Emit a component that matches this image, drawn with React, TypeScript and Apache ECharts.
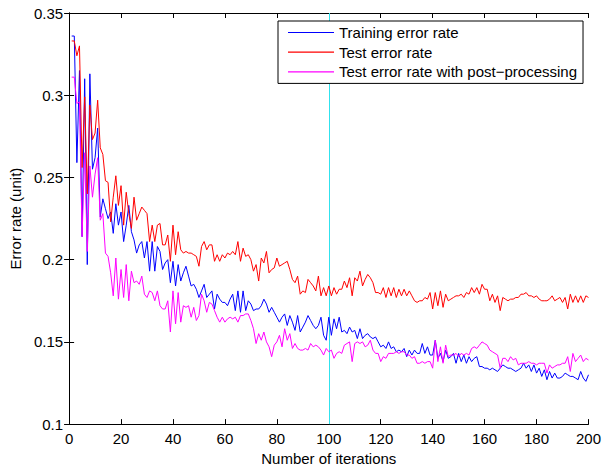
import React, { useEffect, useRef } from "react";
import * as echarts from "echarts";

const seriesNames = [
  "Training error rate",
  "Test error rate",
  "Test error rate with post\u2212processing",
];

const xTicks = [0, 20, 40, 60, 80, 100, 120, 140, 160, 180, 200];
const yTicks = [0.1, 0.15, 0.2, 0.25, 0.3, 0.35];
const markerIteration = 100;

const trainingError = [
  0.336, 0.336, 0.259, 0.315, 0.214, 0.310, 0.197, 0.313, 0.255, 0.262,
  0.280, 0.226, 0.237, 0.231, 0.225, 0.229, 0.216, 0.234, 0.221, 0.229,
  0.211, 0.221, 0.233, 0.217, 0.212, 0.204, 0.209, 0.211, 0.201, 0.211,
  0.193, 0.211, 0.193, 0.208, 0.205, 0.194, 0.198, 0.200, 0.186, 0.199,
  0.184, 0.197, 0.187, 0.192, 0.196, 0.190, 0.184, 0.185, 0.182, 0.177,
  0.181, 0.185, 0.177, 0.179, 0.181, 0.170, 0.179, 0.176, 0.174, 0.174,
  0.172, 0.176, 0.179, 0.169, 0.181, 0.168, 0.181, 0.169, 0.175, 0.173,
  0.169, 0.170, 0.170, 0.172, 0.176, 0.173, 0.168, 0.171, 0.168, 0.165,
  0.162, 0.165, 0.167, 0.160, 0.166, 0.162, 0.157, 0.166, 0.156, 0.159,
  0.162, 0.166, 0.163, 0.160, 0.158, 0.160, 0.165, 0.154, 0.151, 0.165,
  0.154, 0.164, 0.158, 0.165, 0.156, 0.157, 0.155, 0.159, 0.156, 0.157,
  0.152, 0.158, 0.152, 0.154, 0.155, 0.153, 0.152, 0.153, 0.150, 0.147,
  0.148, 0.146, 0.150, 0.146, 0.147, 0.144, 0.145, 0.144, 0.146, 0.141,
  0.145, 0.142, 0.145, 0.143, 0.143, 0.149, 0.143, 0.147, 0.142, 0.142,
  0.151, 0.140, 0.143, 0.138, 0.145, 0.140, 0.141, 0.143, 0.137, 0.143,
  0.138, 0.142, 0.137, 0.141, 0.138, 0.140, 0.141, 0.135, 0.135, 0.134,
  0.134, 0.133, 0.134, 0.133, 0.132, 0.134, 0.136, 0.135, 0.134, 0.134,
  0.133, 0.132, 0.133, 0.134, 0.137, 0.134, 0.136, 0.132, 0.136, 0.131,
  0.134, 0.129, 0.133, 0.127, 0.132, 0.128, 0.131, 0.128, 0.128, 0.129,
  0.131, 0.130, 0.129, 0.129, 0.128, 0.127, 0.132, 0.128, 0.126, 0.130,
];

const testError = [
  0.333, 0.333, 0.324, 0.330, 0.256, 0.299, 0.240, 0.294, 0.273, 0.277,
  0.297, 0.268, 0.264, 0.248, 0.247, 0.223, 0.238, 0.251, 0.233, 0.245,
  0.221, 0.241, 0.228, 0.219, 0.238, 0.224, 0.228, 0.232, 0.230, 0.228,
  0.211, 0.221, 0.211, 0.221, 0.222, 0.209, 0.209, 0.215, 0.199, 0.221,
  0.203, 0.217, 0.206, 0.204, 0.205, 0.204, 0.204, 0.203, 0.202, 0.196,
  0.208, 0.211, 0.206, 0.209, 0.209, 0.199, 0.203, 0.199, 0.203, 0.201,
  0.204, 0.203, 0.205, 0.203, 0.211, 0.199, 0.207, 0.202, 0.203, 0.200,
  0.193, 0.197, 0.187, 0.201, 0.198, 0.205, 0.192, 0.194, 0.195, 0.201,
  0.196, 0.197, 0.198, 0.199, 0.194, 0.188, 0.186, 0.190, 0.179, 0.181,
  0.180, 0.188, 0.186, 0.184, 0.181, 0.190, 0.178, 0.183, 0.178, 0.184,
  0.178, 0.183, 0.179, 0.182, 0.182, 0.187, 0.183, 0.189, 0.178, 0.189,
  0.187, 0.193, 0.184, 0.188, 0.191, 0.189, 0.186, 0.180, 0.180, 0.179,
  0.183, 0.177, 0.183, 0.178, 0.183, 0.177, 0.182, 0.178, 0.182, 0.178,
  0.181, 0.178, 0.175, 0.174, 0.175, 0.175, 0.177, 0.176, 0.180, 0.170,
  0.180, 0.172, 0.181, 0.171, 0.179, 0.175, 0.176, 0.177, 0.178, 0.178,
  0.179, 0.177, 0.180, 0.179, 0.183, 0.180, 0.183, 0.179, 0.185, 0.182,
  0.182, 0.175, 0.179, 0.174, 0.178, 0.169, 0.177, 0.176, 0.175, 0.176,
  0.176, 0.177, 0.177, 0.179, 0.179, 0.180, 0.178, 0.178, 0.177, 0.178,
  0.176, 0.175, 0.175, 0.175, 0.176, 0.178, 0.175, 0.176, 0.177, 0.174,
  0.177, 0.170, 0.179, 0.174, 0.178, 0.174, 0.178, 0.174, 0.178, 0.177,
];

const testErrorPost = [
  0.311, 0.311, 0.295, 0.296, 0.214, 0.265, 0.205, 0.257, 0.238, 0.252,
  0.262, 0.224, 0.228, 0.204, 0.202, 0.192, 0.178, 0.201, 0.176, 0.194,
  0.177, 0.197, 0.175, 0.193, 0.186, 0.187, 0.185, 0.190, 0.179, 0.177,
  0.181, 0.180, 0.175, 0.181, 0.172, 0.170, 0.170, 0.175, 0.156, 0.181,
  0.161, 0.180, 0.162, 0.172, 0.171, 0.172, 0.165, 0.171, 0.163, 0.166,
  0.179, 0.175, 0.168, 0.174, 0.173, 0.169, 0.165, 0.162, 0.165, 0.162,
  0.164, 0.165, 0.164, 0.165, 0.162, 0.166, 0.166, 0.167, 0.167, 0.163,
  0.158, 0.149, 0.155, 0.151, 0.156, 0.150, 0.147, 0.141, 0.148, 0.150,
  0.154, 0.147, 0.158, 0.151, 0.155, 0.146, 0.149, 0.146, 0.145, 0.145,
  0.146, 0.145, 0.149, 0.147, 0.148, 0.147, 0.145, 0.142, 0.146, 0.144,
  0.145, 0.140, 0.143, 0.144, 0.143, 0.148, 0.149, 0.150, 0.138, 0.149,
  0.150, 0.149, 0.150, 0.147, 0.148, 0.151, 0.145, 0.143, 0.143, 0.138,
  0.141, 0.140, 0.143, 0.143, 0.143, 0.144, 0.143, 0.144, 0.144, 0.142,
  0.142, 0.140, 0.141, 0.137, 0.137, 0.138, 0.137, 0.138, 0.138, 0.134,
  0.151, 0.138, 0.147, 0.137, 0.148, 0.141, 0.142, 0.142, 0.143, 0.141,
  0.143, 0.142, 0.143, 0.142, 0.146, 0.147, 0.146, 0.148, 0.150, 0.149,
  0.148, 0.145, 0.144, 0.143, 0.142, 0.134, 0.140, 0.140, 0.138, 0.141,
  0.139, 0.140, 0.136, 0.137, 0.137, 0.137, 0.138, 0.137, 0.137, 0.136,
  0.137, 0.137, 0.137, 0.131, 0.136, 0.134, 0.135, 0.136, 0.136, 0.137,
  0.137, 0.141, 0.132, 0.143, 0.138, 0.140, 0.142, 0.138, 0.140, 0.139,
];

const colors = ["#0000ff", "#ff0000", "#ff00ff"];
const FONT = "'Liberation Sans', Arial, Helvetica, sans-serif";
const LEGEND_LINE_ICON = "path://M0 0H46V1.2H0Z";

export default function App() {
  const ref = useRef<HTMLDivElement>(null);

  useEffect(() => {
    if (!ref.current) return;
    const chart = echarts.init(ref.current, undefined, { renderer: "svg" });
    const toPairs = (arr: number[]) => arr.map((v, i) => [i + 1, v]);
    const xMin = xTicks[0];
    const xMax = xTicks[xTicks.length - 1];
    const xStep = xTicks[1] - xTicks[0];
    const yMin = yTicks[0];
    const yMax = yTicks[yTicks.length - 1];
    const yStep = 0.05;
    const axisLine = { show: true, lineStyle: { color: "#000", width: 1 } };
    const tick = { show: true, inside: true, length: 5, lineStyle: { color: "#000", width: 1 } };
    const labelStyle = { color: "#000", fontSize: 15, fontFamily: FONT };

    const option: any = {
      animation: false,
      backgroundColor: "#fff",
      textStyle: { fontFamily: FONT },
      grid: { left: 64, right: 13, top: 13, bottom: 42, containLabel: false },
      legend: {
        data: seriesNames.map((name) => ({ name, icon: LEGEND_LINE_ICON })),
        orient: "vertical",
        left: 278,
        top: 21,
        padding: [4, 6, 4, 10],
        itemWidth: 46,
        itemHeight: 14,
        itemGap: 4.7,
        backgroundColor: "#fff",
        borderColor: "#000",
        borderWidth: 1,
        borderRadius: 0,
        textStyle: { color: "#000", fontSize: 15, fontFamily: FONT },
      },
      xAxis: [
        {
          type: "value",
          min: xMin,
          max: xMax,
          interval: xStep,
          position: "bottom",
          axisLine,
          axisTick: tick,
          splitLine: { show: false },
          axisLabel: { ...labelStyle, margin: 7 },
          name: "Number of iterations",
          nameLocation: "middle",
          nameGap: 24,
          nameTextStyle: { color: "#000", fontSize: 15, fontFamily: FONT },
        },
        {
          type: "value",
          min: xMin,
          max: xMax,
          interval: xStep,
          position: "top",
          axisLine,
          axisTick: tick,
          splitLine: { show: false },
          axisLabel: { show: false },
        },
      ],
      yAxis: [
        {
          type: "value",
          min: yMin,
          max: yMax,
          interval: yStep,
          position: "left",
          axisLine,
          axisTick: tick,
          splitLine: { show: false },
          axisLabel: {
            ...labelStyle,
            margin: 6,
            formatter: (v: number) => String(parseFloat(v.toFixed(2))),
          },
          name: "Error rate (unit)",
          nameLocation: "middle",
          nameGap: 41,
          nameTextStyle: { color: "#000", fontSize: 15, fontFamily: FONT },
        },
        {
          type: "value",
          min: yMin,
          max: yMax,
          interval: yStep,
          position: "right",
          axisLine,
          axisTick: tick,
          splitLine: { show: false },
          axisLabel: { show: false },
        },
      ],
      series: [
        {
          name: seriesNames[0],
          type: "line",
          data: toPairs(trainingError),
          symbol: "none",
          color: colors[0],
          lineStyle: { color: colors[0], width: 1 },
          z: 3,
          markLine: {
            silent: true,
            symbol: ["none", "none"],
            label: { show: false },
            lineStyle: { color: "#30e2ee", width: 1, type: "solid" },
            data: [{ xAxis: markerIteration }],
            z: 1,
          },
        },
        {
          name: seriesNames[1],
          type: "line",
          data: toPairs(testError),
          symbol: "none",
          color: colors[1],
          lineStyle: { color: colors[1], width: 1 },
          z: 3,
        },
        {
          name: seriesNames[2],
          type: "line",
          data: toPairs(testErrorPost),
          symbol: "none",
          color: colors[2],
          lineStyle: { color: colors[2], width: 1 },
          z: 3,
        },
      ],
    };
    chart.setOption(option);
    return () => chart.dispose();
  }, []);

  return <div ref={ref} style={{ width: 604, height: 471, position: "absolute", left: 0, top: 0 }} />;
}
